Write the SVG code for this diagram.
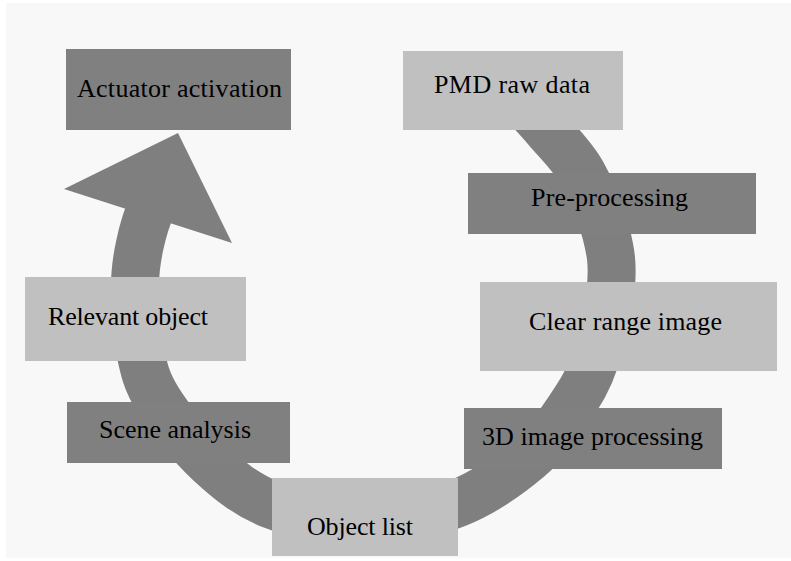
<svg xmlns="http://www.w3.org/2000/svg" width="791" height="561" viewBox="0 0 791 561">
<style>
.dark{fill:#808080}
.light{fill:#c0c0c0}
.lbl{font-family:"Liberation Serif","DejaVu Serif",serif;font-size:26px;fill:#000}
.band{fill:none;stroke:#7f7f7f;stroke-width:48}
.head{fill:#7f7f7f}
</style>
<rect x="0" y="0" width="791" height="561" fill="#ffffff"/>
<rect x="6" y="3" width="785" height="555" fill="#f8f8f8"/>
<g id="connectors">
<path class="band" d="M525,105 C532.5,113.3 538,118.7 547.5,130 C557,141.3 572.3,155.8 582,173 C591.8,190.2 601.2,214.3 606,233 C610.8,251.7 612.8,263.8 611,285 C609.2,306.2 601.8,339.5 595,360 C588.2,380.5 581,391.7 570,408 C559,424.3 547.7,442.2 529,458 C510.3,473.8 485.3,492 458,503 C430.7,514 396,523.7 365,524 C334,524.3 297.8,515.2 272,505 C246.2,494.8 229,480.5 210,463 C191,445.5 169.7,418.8 158,400 C146.3,381.2 143.8,369.2 140,350 C136.2,330.8 135,304.2 135,285 C135,262 142,228 152,206"/>
<polygon class="head" points="178,133 64,189 232,243"/>
</g>
<g id="actuator-activation">
<rect class="dark" x="66" y="49" width="225" height="81"/>
<text class="lbl" x="77" y="97" textLength="205">Actuator activation</text>
</g>
<g id="pmd-raw-data">
<rect class="light" x="403" y="51" width="220" height="79"/>
<text class="lbl" x="434" y="93" textLength="156">PMD raw data</text>
</g>
<g id="pre-processing">
<rect class="dark" x="468" y="173" width="288" height="61"/>
<text class="lbl" x="531" y="206" textLength="157">Pre-processing</text>
</g>
<g id="clear-range-image">
<rect class="light" x="480" y="282" width="297" height="89"/>
<text class="lbl" x="529" y="330" textLength="193">Clear range image</text>
</g>
<g id="image-processing-3d">
<rect class="dark" x="464" y="408" width="258" height="61"/>
<text class="lbl" x="482" y="445" textLength="221">3D image processing</text>
</g>
<g id="object-list">
<rect class="light" x="272" y="478" width="186" height="78"/>
<text class="lbl" x="307" y="535" textLength="106">Object list</text>
</g>
<g id="scene-analysis">
<rect class="dark" x="67" y="402" width="223" height="61"/>
<text class="lbl" x="99" y="438" textLength="152">Scene analysis</text>
</g>
<g id="relevant-object">
<rect class="light" x="25" y="277" width="221" height="84"/>
<text class="lbl" x="48" y="325" textLength="160">Relevant object</text>
</g>
</svg>
